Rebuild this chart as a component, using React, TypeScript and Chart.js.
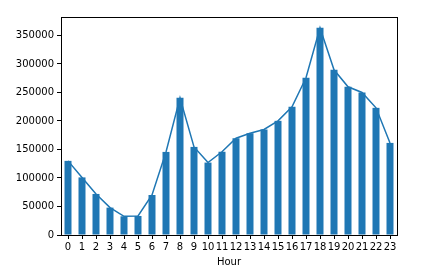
import React, { useEffect, useRef } from "react";
import { Chart, registerables } from "chart.js";

Chart.register(...registerables);

const hours: string[] = [
  "0", "1", "2", "3", "4", "5", "6", "7", "8", "9", "10", "11",
  "12", "13", "14", "15", "16", "17", "18", "19", "20", "21", "22", "23",
];
const counts: number[] = [
  130000, 101000, 72000, 48000, 32800, 33400, 70200, 145700, 240500, 154500, 127000, 146000,
  169700, 178500, 185000, 200200, 224800, 275700, 363500, 289700, 259900, 249900, 223000, 161500,
];
const yMax = 382300;
const yStep = 50000;
const xTitle = "Hour";

const BLUE = "#1f77b4";
const FONT = "'DejaVu Sans', sans-serif";

const framePlugin = {
  id: "frame",
  afterDraw(chart: any) {
    const { ctx, chartArea } = chart;
    ctx.save();
    ctx.strokeStyle = "#000";
    ctx.lineWidth = 1;
    ctx.strokeRect(
      Math.round(chartArea.left) + 0.5,
      Math.round(chartArea.top) + 0.5,
      Math.round(chartArea.right - chartArea.left),
      Math.round(chartArea.bottom - chartArea.top)
    );
    ctx.restore();
  },
};

export default function App() {
  const ref = useRef<HTMLCanvasElement | null>(null);

  useEffect(() => {
    document.body.style.margin = "0";
    const canvas = ref.current;
    if (!canvas) return;
    const chart = new Chart(canvas, {
      type: "bar",
      data: {
        labels: hours,
        datasets: [
          {
            type: "line",
            data: counts,
            borderColor: BLUE,
            borderWidth: 1.5,
            pointRadius: 0,
            tension: 0,
            order: 0,
          } as any,
          {
            type: "bar",
            data: counts,
            backgroundColor: BLUE,
            barPercentage: 0.5,
            categoryPercentage: 1,
            order: 1,
          },
        ],
      },
      options: {
        animation: false,
        responsive: false,
        maintainAspectRatio: false,
        layout: { padding: { left: 0, right: 34, top: 17, bottom: 11 } },
        plugins: {
          legend: { display: false },
          tooltip: { enabled: false },
        },
        scales: {
          x: {
            offset: true,
            grid: {
              display: true,
              drawOnChartArea: false,
              drawTicks: true,
              tickLength: 4,
              color: "#000",
              offset: false,
            },
            border: { display: true, color: "#000", width: 1 },
            ticks: {
              color: "#000",
              font: { family: FONT, size: 10 },
              padding: 2,
              maxRotation: 0,
              autoSkip: false,
            },
            title: {
              display: true,
              text: xTitle,
              color: "#000",
              font: { family: FONT, size: 10 },
              padding: 0,
            },
            afterFit(scale: any) {
              scale.height = 33;
            },
          },
          y: {
            min: 0,
            suggestedMax: yMax,
            bounds: "data",
            grid: {
              display: true,
              drawOnChartArea: false,
              drawTicks: true,
              tickLength: 4,
              color: "#000",
            },
            border: { display: true, color: "#000", width: 1 },
            ticks: {
              stepSize: yStep,
              color: "#000",
              font: { family: FONT, size: 10 },
              padding: 3,
              callback: (v: any) => String(v),
            },
            afterBuildTicks(scale: any) {
              scale.ticks = scale.ticks.filter((t: any) => t.value % yStep === 0);
            },
            afterFit(scale: any) {
              scale.width = 61;
            },
          },
        },
      },
      plugins: [framePlugin],
    });
    return () => chart.destroy();
  }, []);

  return <canvas ref={ref} width={431} height={279} style={{ display: "block" }} />;
}
